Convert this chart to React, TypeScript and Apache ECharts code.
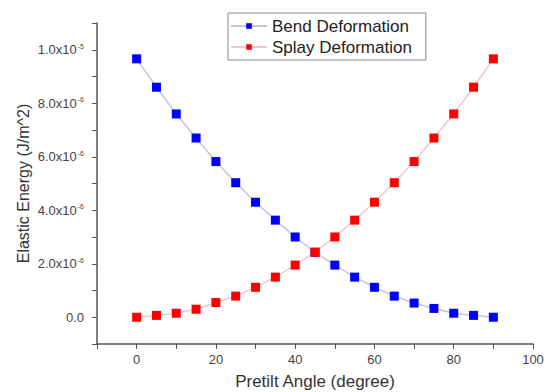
import React, { useEffect, useRef } from "react";
import * as echarts from "echarts";

const angles = [0, 5, 10, 15, 20, 25, 30, 35, 40, 45, 50, 55, 60, 65, 70, 75, 80, 85, 90];
// values in units of 1e-6 J/m^2
const bendValues = [9.66, 8.6, 7.6, 6.7, 5.82, 5.03, 4.3, 3.63, 3.0, 2.43, 1.95, 1.5, 1.12, 0.79, 0.53, 0.33, 0.15, 0.07, 0.0];
const splayValues = [0.0, 0.07, 0.15, 0.3, 0.55, 0.79, 1.12, 1.5, 1.95, 2.43, 3.0, 3.63, 4.3, 5.03, 5.82, 6.7, 7.6, 8.6, 9.66];
const seriesNames = ["Bend Deformation", "Splay Deformation"];
const xTitle = "Pretilt Angle (degree)";
const yTitle = "Elastic Energy (J/m^2)";

const FONT = "Liberation Sans, Arial, sans-serif";

function yLabel(v: number): string {
  const n = Math.round(v / 1e-6);
  if (n % 2 !== 0) return "";
  if (n === 0) return "{b|0.0}";
  if (n >= 10) return `{b|${(n / 10).toFixed(1)}x10}{s|-5}`;
  return `{b|${n.toFixed(1)}x10}{s|-6}`;
}

export default function App() {
  const ref = useRef<HTMLDivElement>(null);
  useEffect(() => {
    if (!ref.current) return;
    const chart = echarts.init(ref.current, null, { renderer: "svg" });
    const mk = (vals: number[]) => angles.map((a, i) => [a, vals[i] * 1e-6]);
    chart.setOption({
      animation: false,
      backgroundColor: "#ffffff",
      textStyle: { fontFamily: FONT },
      grid: { left: 97, right: 15, top: 23, bottom: 48, outerBoundsMode: "none", containLabel: false },
      legend: {
        orient: "vertical",
        left: 228,
        top: 13,
        padding: [4, 14, 4, 2],
        itemGap: 3,
        itemWidth: 36,
        itemHeight: 7,
        borderColor: "#888",
        borderWidth: 1,
        borderRadius: 0,
        textStyle: { fontSize: 17, color: "#222", fontFamily: FONT, lineHeight: 18 },
        data: seriesNames,
      },
      xAxis: {
        type: "value",
        min: -10,
        max: 100,
        interval: 10,
        name: xTitle,
        nameLocation: "middle",
        nameGap: 29,
        nameMoveOverlap: false,
        nameTextStyle: { fontSize: 17, color: "#333", fontFamily: FONT },
        axisLine: { show: true, onZero: false, lineStyle: { color: "#555", width: 1.5 } },
        axisTick: { show: true, length: 5, lineStyle: { color: "#555" } },
        axisLabel: {
          fontSize: 13,
          color: "#444",
          margin: 9,
          formatter: (v: number) => (v >= 0 && Math.round(v) % 20 === 0 ? String(Math.round(v)) : ""),
        },
        splitLine: { show: false },
      },
      yAxis: {
        type: "value",
        min: -1e-6,
        max: 1.1e-5,
        interval: 1e-6,
        name: yTitle,
        nameLocation: "middle",
        nameGap: 66,
        nameMoveOverlap: false,
        nameTextStyle: { fontSize: 16, color: "#333", fontFamily: FONT },
        axisLine: { show: true, onZero: false, lineStyle: { color: "#555", width: 1.5 } },
        axisTick: { show: true, length: 5, lineStyle: { color: "#555" } },
        axisLabel: {
          color: "#444",
          margin: 13,
          formatter: yLabel,
          rich: {
            b: { fontSize: 13, color: "#444", fontFamily: FONT },
            s: { fontSize: 7, color: "#444", fontFamily: FONT, verticalAlign: "top", padding: [0, 0, 7, 1] },
          },
        },
        splitLine: { show: false },
      },
      series: [
        {
          name: seriesNames[0],
          type: "line",
          data: mk(bendValues),
          symbol: "rect",
          symbolSize: 9,
          itemStyle: { color: "#0000ff" },
          lineStyle: { color: "#c4c4dc", width: 1.5 },
        },
        {
          name: seriesNames[1],
          type: "line",
          data: mk(splayValues),
          symbol: "rect",
          symbolSize: 9,
          itemStyle: { color: "#ff0000" },
          lineStyle: { color: "#f2c4d0", width: 1.5 },
        },
      ],
    });
    return () => chart.dispose();
  }, []);
  return <div ref={ref} style={{ width: 548, height: 392, position: "absolute", left: 0, top: 0 }} />;
}
